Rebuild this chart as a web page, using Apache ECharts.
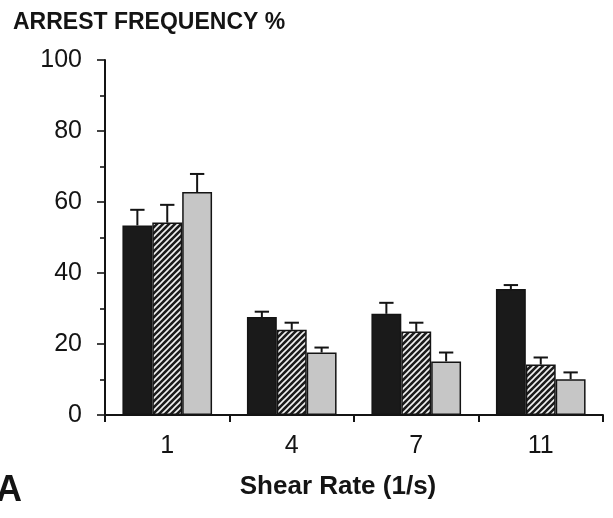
<!DOCTYPE html>
<html>
<head>
<meta charset="utf-8">
<script src="https://cdn.jsdelivr.net/npm/echarts@6/dist/echarts.min.js"></script>
<style>
  html, body { margin: 0; padding: 0; background: #fff; }
  #chart { width: 613px; height: 518px; }
</style>
</head>
<body>
<div id="chart"></div>
<script>
// Shear rates (1/s) on the x axis
const shearRates = ['1', '4', '7', '11'];
// Mean arrest frequency (%) for the three conditions
const solidMeans   = [53.4, 27.6, 28.5, 35.5];
const hatchedMeans = [54.2, 24.0, 23.5, 14.2];
const greyMeans    = [62.8, 17.6, 15.1, 10.1];
// Upper end of each error bar (mean + SEM)
const solidUpper   = [57.8, 29.1, 31.6, 36.6];
const hatchedUpper = [59.2, 26.0, 26.0, 16.2];
const greyUpper    = [67.9, 19.0, 17.6, 12.0];
// Y axis ticks
const yTicks = [0, 20, 40, 60, 80, 100];

const INK = '#141414';
const FONT = 'Liberation Sans, Arial, sans-serif';

// White diagonal stripes on a dark ground for the hatched bars
function hatchPattern() {
  const c = document.createElement('canvas');
  c.width = 6; c.height = 6;
  const g = c.getContext('2d');
  g.fillStyle = '#1c1c1c';
  g.fillRect(0, 0, 6, 6);
  g.strokeStyle = '#f2f2f2';
  g.lineWidth = 1.6;
  g.beginPath();
  g.moveTo(-1, 7); g.lineTo(7, -1);
  g.moveTo(-4, 4); g.lineTo(4, -4);
  g.moveTo(2, 10); g.lineTo(10, 2);
  g.stroke();
  return c;
}

const chart = echarts.init(document.getElementById('chart'), null, { renderer: 'canvas' });

const groups = [
  { name: 'solid',   means: solidMeans,   upper: solidUpper,   color: '#1a1a1a' },
  { name: 'hatched', means: hatchedMeans, upper: hatchedUpper, color: { image: hatchPattern(), repeat: 'repeat' } },
  { name: 'grey',    means: greyMeans,    upper: greyUpper,    color: '#c6c6c6' }
];

const CAT_GAP = 0.28;

function errorBarSeries(gi) {
  const grp = groups[gi];
  return {
    type: 'custom',
    name: grp.name + '-err',
    z: 5,
    data: grp.means.map((m, i) => [i, m, grp.upper[i]]),
    renderItem: function (params, api) {
      const idx = api.value(0);
      const band = api.size([1, 0])[0];
      const barW = band * (1 - CAT_GAP) / groups.length;
      const center = api.coord([idx, 0])[0] + (gi - (groups.length - 1) / 2) * barW;
      const yLow = api.coord([idx, api.value(1)])[1];
      const yHigh = api.coord([idx, api.value(2)])[1];
      const half = barW * 0.24;
      const style = { stroke: INK, lineWidth: 2, fill: null };
      return {
        type: 'group',
        children: [
          { type: 'line', shape: { x1: center, y1: yLow, x2: center, y2: yHigh }, style: style },
          { type: 'line', shape: { x1: center - half, y1: yHigh, x2: center + half, y2: yHigh }, style: style }
        ]
      };
    }
  };
}

const barSeries = groups.map(grp => ({
  type: 'bar',
  name: grp.name,
  data: grp.means,
  barGap: '0%',
  barCategoryGap: (CAT_GAP * 100) + '%',
  itemStyle: { color: grp.color, borderColor: INK, borderWidth: 1.5 },
  z: 3
}));

chart.setOption({
  animation: false,
  backgroundColor: '#fff',
  textStyle: { fontFamily: FONT },
  grid: { left: 105, right: 10, top: 60, bottom: 103, containLabel: false },
  title: {
    text: 'ARREST FREQUENCY %',
    left: 8, top: 6,
    textStyle: { fontSize: 23, fontWeight: 'bold', color: INK, fontFamily: FONT }
  },
  graphic: [
    {
      type: 'text', left: -4, top: 473,
      style: { text: 'A', fontSize: 36, fontWeight: 'bold', fill: INK, fontFamily: FONT }
    },
    {
      // x axis title, set slightly left of the plot centre
      type: 'text', x: 338, y: 487,
      style: { text: 'Shear Rate (1/s)', fontSize: 26, fontWeight: 'bold', fill: INK, fontFamily: FONT,
               align: 'center', verticalAlign: 'middle' }
    }
  ],
  xAxis: {
    type: 'category',
    data: shearRates,
    axisLine: { lineStyle: { color: INK, width: 2 } },
    axisTick: { show: true, length: 7, lineStyle: { color: INK, width: 2 } },
    axisLabel: { fontSize: 25, color: INK, margin: 19 },
    splitLine: { show: false }
  },
  yAxis: {
    type: 'value',
    min: yTicks[0], max: yTicks[yTicks.length - 1], interval: 20,
    axisLine: { show: true, lineStyle: { color: INK, width: 2 } },
    axisTick: { show: true, length: 8, lineStyle: { color: INK, width: 1.6 } },
    minorTick: { show: true, splitNumber: 2, length: 5, lineStyle: { color: INK, width: 1.6 } },
    axisLabel: { fontSize: 25, color: INK, margin: 23 },
    splitLine: { show: false }
  },
  series: barSeries.concat(groups.map((g, i) => errorBarSeries(i)))
});
</script>
</body>
</html>
